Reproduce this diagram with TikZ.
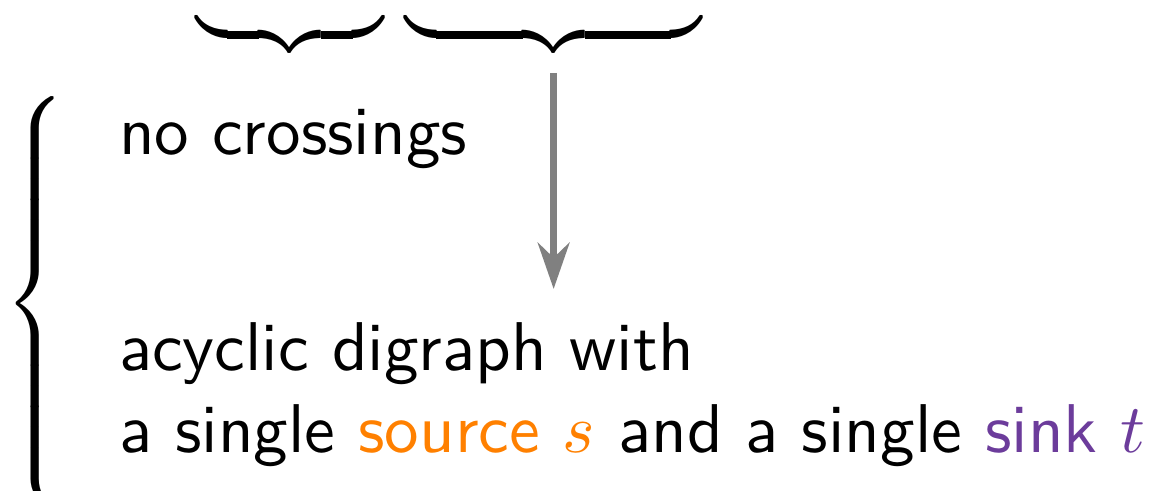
\documentclass[tikz,border=0pt]{standalone}
\usetikzlibrary{arrows.meta}
\definecolor{laranja}{RGB}{255,128,0}
\definecolor{roxo}{RGB}{108,60,155}
\tikzset{
  texto/.style={anchor=base west, inner sep=0pt, font=\sffamily},
  chave/.style={inner sep=0pt},
  seta/.style={-{Stealth[length=6.7pt,width=4.6pt]}, gray, line width=1pt}
}
\begin{document}
\begin{tikzpicture}
  \useasboundingbox (0,0) rectangle (5.873,2.501);
  % Chaves horizontais
  \node[chave, font=\large, anchor=south] (chaveA) at (1.477,2.19) {$\underbrace{\hspace{27.2pt}}$};
  \node[chave, font=\large, anchor=south] (chaveB) at (2.82,2.19) {$\underbrace{\hspace{43pt}}$};
  % Chave vertical
  \node[chave, anchor=west] (chaveC) at (0.015,0.955)
    {$\delimiterfactor=1000\delimitershortfall=0pt\left\{\vrule height 29.8pt depth 24.8pt width 0pt\right.$};
  % Textos
  \node[texto] (cruz) at (0.60,1.712) {no crossings};
  \node[texto] (dag) at (0.60,0.616) {acyclic digraph with};
  \node[texto] (fonte) at (0.60,0.194) {a single \textcolor{laranja}{source $s$} and a single \textcolor{roxo}{sink $t$}};
  % Seta
  \coordinate (ponta) at ([yshift=-1.161cm]chaveB.south);
  \draw[seta] ([yshift=-0.061cm]chaveB.south) -- (ponta);
\end{tikzpicture}
\end{document}
